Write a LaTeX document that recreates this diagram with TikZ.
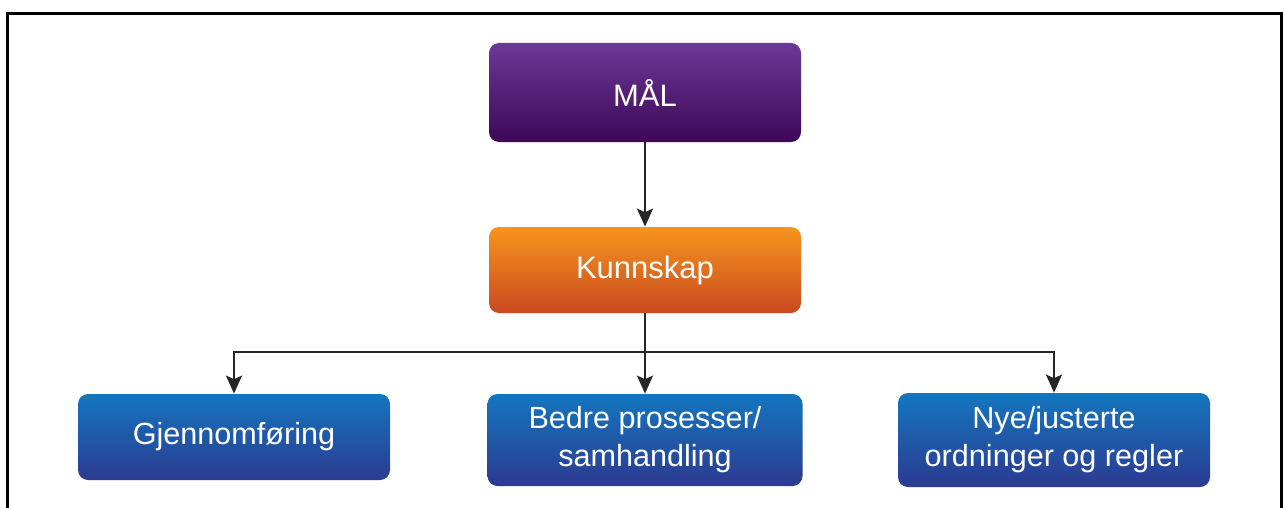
\documentclass[tikz,border=0pt]{standalone}
\usepackage{fontspec}
\setmainfont{Liberation Sans}
\usetikzlibrary{arrows.meta}
\definecolor{purpletop}{RGB}{107,56,150}
\definecolor{purplebot}{RGB}{61,8,86}
\definecolor{orangetop}{RGB}{247,148,30}
\definecolor{orangebot}{RGB}{201,74,32}
\definecolor{bluetop}{RGB}{20,118,190}
\definecolor{bluebot}{RGB}{44,58,145}
\begin{document}
\begin{tikzpicture}[
  x=0.5pt,y=-0.5pt,
  box/.style={rounded corners=5pt, inner sep=0pt, align=center, text=white, minimum width=156pt},
  topbox/.style={box, font=\fontsize{15.5}{19}\selectfont},
  lowbox/.style={box, font=\fontsize{15.3}{19}\selectfont, top color=bluetop, bottom color=bluebot},
  arrow/.style={-{Stealth[length=9pt,width=8pt,inset=1.8pt]}, line width=1pt, black!85}
]
\useasboundingbox (0,0) rectangle (1284,508);
\draw[line width=1.5pt] (7,508) -- (7,13.5) -- (1281,13.5) -- (1281,508);

\node[topbox, minimum height=49.5pt, top color=purpletop, bottom color=purplebot] (mal) at (645,92.5) {MÅL};
\node[topbox, minimum height=43pt, top color=orangetop, bottom color=orangebot] (kunnskap) at (645,270) {Kunnskap};

\node[lowbox, minimum height=43pt] (gjennom) at (234,437) {Gjennomføring};
\node[lowbox, minimum height=46pt, minimum width=157.5pt] (bedre) at (645,440) {Bedre prosesser/\\samhandling};
\node[lowbox, minimum height=47pt] (nye) at (1054,440) {Nye/justerte\\ordninger og regler};

\coordinate (split) at (645,352);
\draw[arrow] (mal) -- (kunnskap);
\draw[arrow] (kunnskap) -- (bedre);
\draw[arrow] (split) -| (gjennom);
\draw[arrow] (split) -| (nye);
\end{tikzpicture}
\end{document}
